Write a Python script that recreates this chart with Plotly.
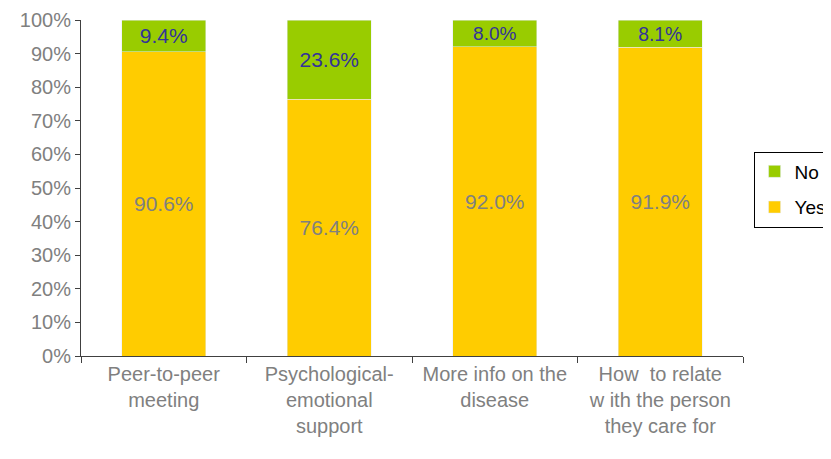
import plotly.graph_objects as go

categories = ['Peer-to-peer<br>meeting', 'Psychological-<br>emotional<br>support',
              'More info on the<br>disease', 'How  to relate<br>w ith the person<br>they care for']
yes_values = [90.6, 76.4, 92.0, 91.9]
no_values = [9.4, 23.6, 8.0, 8.1]

font = 'Liberation Sans, Arial, sans-serif'

fig = go.Figure()
fig.add_trace(go.Bar(x=categories, y=yes_values, name='Yes', marker_color='#FFCC00',
                     legendgroup='yes', legendrank=2,
                     text=[f'{v:.1f}%' for v in yes_values], textposition='inside',
                     insidetextanchor='middle', textangle=0,
                     textfont=dict(size=21, color='#808080', family=font)))
fig.add_trace(go.Bar(x=categories, y=no_values, name='No', marker_color='#99CC00',
                     legendgroup='no', legendrank=1,
                     text=[f'{v:.1f}%' for v in no_values], textposition='inside',
                     insidetextanchor='middle', textangle=0,
                     textfont=dict(size=21, color='#333399', family=font)))

# page body has an 8px margin, so the figure is a bit smaller than the window
fig.update_layout(
    barmode='stack',
    bargap=0.49,
    width=823, height=451,
    margin=dict(l=73, r=88, t=12, b=103, autoexpand=False),
    paper_bgcolor='white',
    plot_bgcolor='white',
    font=dict(family=font, size=20, color='#808080'),
    showlegend=True,
    legend=dict(x=1.016, y=0.4955, xanchor='left', yanchor='middle',
                xref='paper', yref='paper',
                bordercolor='#000000', borderwidth=1, bgcolor='white',
                font=dict(size=19, color='#000000', family=font),
                traceorder='grouped', tracegroupgap=8, itemwidth=30),
    xaxis=dict(showline=True, linecolor='#404040', linewidth=1, automargin=False,
               ticks='outside', ticklen=6, tickcolor='#404040', tickson='boundaries',
               tickfont=dict(size=20, color='#808080'), showgrid=False),
    yaxis=dict(range=[0, 100], dtick=10, ticksuffix='%', showline=True, automargin=False,
               linecolor='#404040', linewidth=1, ticks='outside', ticklen=5,
               tickcolor='#404040', showgrid=False, zeroline=False,
               tickfont=dict(size=20, color='#808080')),
)

fig.write_html('out.html')
